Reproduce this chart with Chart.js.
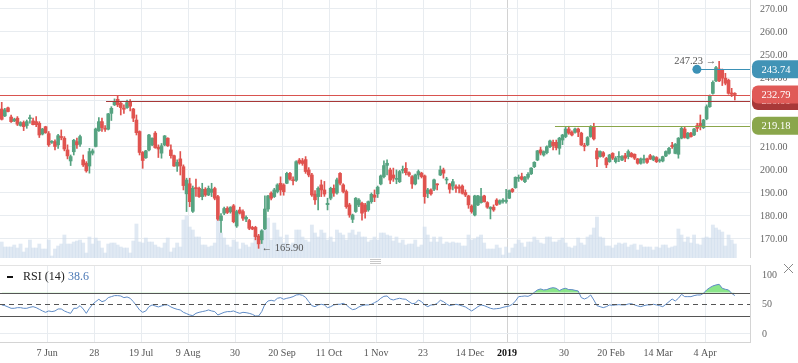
<!DOCTYPE html>
<html>
<head>
<meta charset="utf-8">
<script src="https://cdn.jsdelivr.net/npm/chart.js@4.4.1/dist/chart.umd.min.js"></script>
<style>
  html, body { margin: 0; padding: 0; background: #fff; }
  #wrap { position: relative; width: 798px; height: 363px; overflow: hidden; }
  #priceChart { position: absolute; left: 0; top: 0; }
  #rsiChart { position: absolute; left: 0; top: 258px; }
</style>
</head>
<body>
<div id="wrap">
  <canvas id="priceChart" width="798" height="258"></canvas>
  <canvas id="rsiChart" width="798" height="105"></canvas>
</div>
<script>
// daily candles, one per trading day (index 0 = late May 2018)
const opens = [
  226.5,223.5,227.0,223.0,221.3,222.5,219.3,220.6,219.3,222.3,
  221.3,221.0,220.3,215.6,218.8,215.8,212.0,212.3,210.9,214.5,
  213.8,208.7,203.9,207.9,212.3,211.2,204.4,202.9,201.7,207.3,
  210.2,217.1,221.0,218.1,217.7,224.6,228.3,230.7,229.0,226.8,
  227.1,229.7,226.5,221.7,216.7,207.6,205.3,208.7,210.9,216.0,
  209.9,207.3,210.9,213.8,208.7,206.2,201.7,204.8,201.4,189.6,
  194.0,182.0,192.3,192.0,188.4,191.6,189.1,190.2,191.9,188.4,
  178.0,181.2,183.3,181.8,184.4,175.6,182.6,181.9,178.6,178.0,
  175.0,175.0,171.3,169.6,174.4,183.0,189.9,188.4,190.6,194.2,
  193.5,194.2,198.5,195.7,195.5,204.3,204.0,204.5,200.0,197.8,
  189.5,188.4,193.5,191.3,184.9,187.7,192.0,190.0,198.5,193.5,
  190.6,184.8,178.5,181.9,184.8,185.5,184.8,182.6,186.2,189.1,
  189.6,193.9,197.1,202.0,200.0,197.8,195.9,194.9,199.8,200.7,
  198.8,197.1,193.9,197.8,198.6,197.4,189.8,191.3,191.6,193.8,
  197.8,200.0,195.6,193.9,193.0,192.7,192.5,193.0,190.2,188.7,
  184.3,180.4,184.8,185.8,188.7,185.8,183.1,183.8,186.9,185.5,
  186.3,186.3,187.7,191.6,192.3,196.3,197.1,194.9,196.8,198.3,
  201.4,204.3,208.7,206.5,207.5,210.1,212.0,212.0,209.4,213.0,
  214.5,217.8,216.4,216.4,217.8,216.0,210.6,210.9,214.5,218.8,
  208.3,205.8,207.5,205.0,203.6,207.2,203.6,205.5,204.3,206.2,
  205.8,207.2,206.8,204.8,202.9,204.4,204.8,206.2,204.4,205.4,
  203.9,203.9,206.1,207.2,210.6,207.2,206.8,213.8,217.8,213.8,
  216.0,215.2,219.3,220.3,218.4,222.2,227.5,233.3,238.7,243.9,
  243.5,239.9,239.0,233.5,233.3
];
const highs = [
  229.4,226.8,227.3,223.9,222.5,223.2,221.0,221.3,221.7,223.9,
  222.5,223.2,221.0,218.1,219.0,216.7,212.8,213.1,215.5,217.4,
  214.5,210.9,206.5,213.3,213.8,215.2,206.5,203.6,209.4,209.1,
  218.2,222.8,222.5,219.3,224.6,227.5,230.9,232.2,229.7,228.3,
  230.4,230.6,226.8,223.9,217.0,208.0,208.5,215.5,214.0,216.7,
  210.9,211.5,215.0,214.0,210.9,206.5,204.4,208.0,202.2,196.4,
  196.4,193.0,196.0,192.5,194.2,192.3,193.0,194.2,192.5,189.0,
  181.0,183.8,184.0,184.0,185.0,182.5,183.8,182.6,180.0,178.5,
  175.5,175.5,172.0,174.0,188.7,189.0,190.5,192.0,194.0,197.0,
  194.0,199.0,199.0,197.0,204.0,205.0,205.0,205.8,201.0,198.5,
  191.0,192.7,195.6,195.0,187.7,192.5,193.5,196.5,198.8,194.0,
  191.3,185.5,180.8,188.0,187.5,186.0,185.5,186.5,190.0,191.3,
  193.0,197.8,204.0,204.4,200.8,200.8,200.0,199.8,201.7,203.2,
  199.2,197.5,198.2,200.0,199.0,197.8,192.0,191.8,196.0,194.0,
  201.7,200.8,196.8,194.2,195.9,193.5,193.5,193.5,191.3,189.0,
  184.8,189.0,189.0,192.0,189.0,186.2,184.0,184.8,187.5,187.0,
  187.5,191.6,191.3,192.0,197.0,197.8,198.6,197.2,198.8,201.0,
  203.6,208.5,209.9,208.3,210.5,213.0,213.0,213.0,214.2,215.5,
  218.5,219.0,217.0,218.2,218.2,216.4,211.6,214.5,219.3,220.3,
  209.4,208.3,208.0,205.5,206.8,207.5,205.8,208.0,206.2,207.2,
  208.7,207.6,207.0,205.0,205.2,206.5,205.2,206.8,206.2,205.8,
  204.8,206.0,208.3,209.8,212.0,211.5,214.1,218.8,218.8,216.3,
  216.4,218.1,220.3,223.9,222.0,228.3,232.6,238.7,245.0,247.23,
  243.9,242.0,239.5,235.5,233.6
];
const lows = [
  221.7,223.2,225.2,220.7,221.0,219.3,219.0,217.1,218.1,220.3,
  219.6,218.8,214.1,215.2,215.9,210.2,211.5,208.7,209.4,213.1,
  208.3,204.8,201.9,206.5,209.4,210.2,201.5,199.0,198.6,206.5,
  210.0,216.7,216.7,216.7,217.4,221.5,228.0,227.5,223.9,224.6,
  226.8,225.7,221.0,215.2,206.5,200.7,205.0,208.3,210.5,209.4,
  205.4,205.1,210.5,210.2,205.1,201.5,199.3,197.8,191.3,181.9,
  184.0,181.5,188.5,188.0,187.0,188.5,188.8,188.4,187.0,178.0,
  172.8,180.5,181.0,181.2,177.0,175.0,180.8,178.0,177.5,174.0,
  174.0,169.6,165.9,168.0,174.0,182.0,187.0,188.0,190.0,189.0,
  189.0,194.0,195.5,193.5,195.0,202.5,202.0,198.5,197.0,188.5,
  185.0,182.6,188.4,188.5,182.6,187.0,188.5,189.5,193.5,190.0,
  183.3,179.4,177.1,181.5,184.0,178.2,179.0,182.0,185.5,186.2,
  188.0,193.5,196.5,197.8,194.0,195.0,194.0,194.5,198.6,197.8,
  197.2,192.0,193.5,196.0,196.5,185.5,187.9,189.0,191.0,191.3,
  197.5,196.4,193.9,189.9,191.3,190.2,190.0,189.5,188.4,183.3,
  181.2,180.0,184.5,185.5,186.0,183.3,178.7,182.0,184.5,185.0,
  185.5,185.5,187.5,190.2,192.0,195.0,195.5,194.5,196.0,198.0,
  201.0,204.0,206.5,206.0,207.0,209.7,208.7,208.7,206.8,211.0,
  214.0,215.5,214.8,216.0,214.5,210.6,208.3,210.5,214.2,213.0,
  201.4,205.5,205.5,201.0,203.3,204.5,203.0,203.6,204.0,203.6,
  204.8,205.5,204.5,202.5,202.5,202.9,202.8,204.5,204.0,203.2,
  203.3,203.5,205.8,206.9,209.4,207.0,205.1,213.5,213.8,213.5,
  214.2,214.9,216.7,217.4,218.0,221.8,227.2,232.9,238.4,238.4,
  236.7,237.0,232.9,231.9,230.4
];
const closes = [
  222.0,226.1,225.4,221.0,222.0,219.9,220.6,218.8,221.0,222.5,
  219.7,219.7,215.2,217.8,216.2,210.9,212.3,210.2,214.9,214.1,
  209.1,206.1,205.8,212.9,210.9,214.5,202.2,199.6,208.0,208.3,
  217.8,221.0,218.4,217.7,224.4,226.8,229.7,228.3,227.1,226.4,
  229.3,227.7,222.5,216.2,207.6,204.1,208.3,215.2,213.8,209.7,
  209.1,210.5,214.8,210.5,206.2,201.7,203.3,201.7,193.2,195.6,
  186.2,192.0,191.9,188.4,191.6,189.1,192.0,191.6,187.7,178.6,
  180.0,183.2,181.5,183.8,177.5,181.9,181.2,179.0,179.4,174.6,
  174.3,171.0,167.8,173.5,183.0,188.7,187.7,191.3,193.5,191.3,
  190.5,198.5,196.0,195.3,203.6,203.0,202.8,199.3,197.8,189.1,
  187.0,192.0,191.3,189.5,185.5,192.0,189.9,195.7,194.2,190.6,
  184.0,180.4,180.4,187.7,186.9,181.2,181.9,186.2,189.4,188.1,
  192.5,197.4,201.9,202.9,195.6,196.4,196.3,199.3,200.1,198.8,
  197.8,193.9,197.8,199.3,197.1,188.4,191.3,189.6,195.7,193.5,
  200.0,198.6,195.9,191.6,194.9,192.0,192.0,189.9,189.1,184.8,
  181.9,188.7,188.7,188.4,186.2,183.8,183.8,182.6,184.8,186.6,
  186.9,186.6,191.0,190.6,196.8,196.8,195.9,196.8,198.1,200.8,
  203.3,208.3,207.3,208.0,210.1,212.6,210.6,209.7,213.8,215.2,
  217.8,216.0,215.2,217.8,216.4,210.9,210.2,214.1,218.8,213.5,
  204.8,208.0,206.0,202.2,206.5,205.1,205.1,205.8,205.8,205.1,
  208.0,205.8,205.1,202.9,204.8,204.8,203.3,204.8,205.8,203.6,
  204.3,205.8,208.0,209.4,210.1,211.2,213.8,218.1,214.1,216.0,
  214.5,217.8,218.1,218.8,221.7,227.5,232.3,238.1,244.5,238.7,
  239.9,237.7,233.3,232.9,232.79
];
// volume (hundred-thousand shares)
const volumes = [
  16,11,11,11,13,10,14,6,10,18, 10,10,14,9,9,18,2,9,12,14,
  23,14,14,16,17,18,15,5,21,14, 20,17,10,5,14,15,15,13,11,10,
  10,5,17,34,16,15,20,16,16,13, 11,10,15,20,6,10,15,11,38,42,
  31,28,21,21,13,13,11,12,15,38, 25,20,13,11,18,16,9,15,13,11,
  15,23,13,28,45,40,18,35,28,21, 15,23,13,15,28,28,21,18,16,33,
  25,21,28,25,18,21,16,28,25,23, 18,25,28,23,26,21,21,16,18,21,
  18,25,25,23,22,17,21,15,18,13, 14,14,18,11,13,31,23,16,21,16,
  21,14,16,15,16,15,15,12,12,23, 18,19,21,23,15,9,9,9,13,10,
  3,11,5,10,14,18,15,11,16,16, 21,18,15,14,21,21,16,16,18,20,
  15,11,10,12,20,15,13,21,23,30, 41,21,20,12,12,10,13,15,14,15,
  11,13,14,8,13,11,11,11,8,11, 10,13,13,10,11,12,29,23,16,21,
  15,23,14,13,20,21,20,33,30,28, 26,12,23,18,14
];
// RSI (14)
const rsiValues = [
  49.2,48,45.8,43.5,43.5,44.6,44.6,43.5,43.5,45.2,
  46.3,44.6,41.8,39,36.7,39,37.9,39,42.4,42.4,
  39,36.7,35,43.5,43.5,48,42.4,35,43.5,50.3,
  54.8,58.8,54.8,56.5,61.6,63.3,65,65,64.4,61.6,
  62.7,60.5,54.8,48,40.7,36.7,39,46.3,49.2,47.5,
  45.8,47.5,49.2,49.2,45.8,43.5,41.8,40.7,36.7,34.5,
  32.2,31.1,35,36.7,37.9,39,40.7,39,37.9,32.2,
  34.5,36.7,37.9,37.9,39,36.7,35,36.7,36.1,35,
  33.3,30.5,30.5,37.9,50.3,55.9,57.1,55.9,60.5,61.6,
  58.8,60.5,61.6,63.3,66.1,66.7,65.5,62.1,54.8,48,
  46.3,49.2,50.3,49.2,44.6,46.3,49.2,50.3,50.3,52,
  49.2,44.6,41.2,42.4,45.8,48,49.2,49.2,50.3,53.1,
  55.9,60.5,63.8,64.4,59.3,57.6,59.3,60.5,59.3,58.8,
  54.8,51.4,52,57.6,54.8,49.2,46.3,49.2,49.2,52,
  57.1,54.8,50.8,48,49.2,50.3,49.2,47.5,45.8,42.4,
  39,42.4,46.3,49.2,48,45.8,43.5,42.4,42.9,43.5,
  45.2,46.3,47.5,50.3,55.9,63.3,63.8,64.4,63.8,66.1,
  70.6,74.6,76.3,74.6,75.2,77.4,78.5,77.4,73.5,76.3,
  77.4,75.2,75.2,74,72.9,61.6,59.3,61.6,66.1,57.6,
  48,46.3,44.6,46.3,49.2,48.6,49.2,49.7,49.2,49.2,
  50.8,51.4,49.2,47.5,46.3,48,49.2,49.2,50.3,49.2,
  48,46.3,50.3,54.8,59.3,55.9,60.5,67.2,63.3,63.3,
  63.3,65,66.1,66.1,68.9,74.6,78.5,81.4,83.1,84.2,
  77.4,75.7,74.6,68.9,65
];
const rsiLabel = 'RSI (14)';
const rsiShown = '38.6';
const rsiLevels = [70, 50, 30];
const rsiTicks = [0, 50, 100];

// date ticks (trading-day position) and labels
const dateTickPos = [14.5, 29.5, 44.5, 59.5, 74.5, 89.5, 104.5, 119.5, 134.5, 149.5, 161.3, 164.5, 179.5, 194.5, 209.5, 224.5];
const dateTickLabels = ['7 Jun', '28', '19 Jul', '9 Aug', '30', '20 Sep', '11 Oct', '1 Nov', '23', '14 Dec', '2019', '', '30', '20 Feb', '14 Mar', '4 Apr'];
const yearTickPos = 161.3;
const priceTicks = [170, 180, 190, 200, 210, 220, 230, 240, 250, 260, 270];

// price levels drawn across the chart (start = trading-day index, null = full width)
const levelPrices = [230.0, 232.79, 219.18, 243.74];
const levelStart = [33.3, null, 176.6, 221.9];

// ---- styles ----
const GREEN = '#56a381';
const RED = '#e0534f';
const VOL_COLOR = 'rgba(203,219,235,0.6)';
const GRID = '#e8ecf0';
const YEAR_GRID = '#d2d2d2';
const AXIS_LINE = '#d4d4d4';
const levelColors = ['#a83838', '#d9534f', '#8aa64b', '#3b91b6'];
const badgeColors = ['#a83838', '#e05a57', '#8aa64b', '#4193b6'];
const X_MIN = -0.55, X_MAX = 238.85;
const VOL_MAX = 258;

Chart.defaults.font.family = "'Liberation Serif', 'Times New Roman', serif";
Chart.defaults.font.size = 10;
Chart.defaults.color = '#555';

const candleColors = closes.map((c, i) => c >= opens[i] ? GREEN : RED);
const gridColor = (c) => c.tick && Math.abs(c.tick.value - yearTickPos) < 0.01 ? YEAR_GRID : GRID;

function xScaleBase() {
  return {
    type: 'linear', min: X_MIN, max: X_MAX, offset: false,
    afterBuildTicks: s => { s.ticks = dateTickPos.map(v => ({ value: v })); },
    grid: { offset: false, drawTicks: false, color: gridColor },
    border: { display: true, color: AXIS_LINE }
  };
}

// max high / min low markers
let hiIdx = 0, loIdx = 0;
highs.forEach((h, i) => { if (h > highs[hiIdx]) hiIdx = i; });
lows.forEach((l, i) => { if (l < lows[loIdx]) loIdx = i; });

const priceMarks = {
  id: 'priceMarks',
  afterDatasetsDraw(chart) {
    const { ctx, chartArea, scales: { x, y } } = chart;
    ctx.save();
    levelPrices.forEach((p, k) => {
      const py = Math.round(y.getPixelForValue(p)) + 0.5;
      const x0 = levelStart[k] === null ? chartArea.left : x.getPixelForValue(levelStart[k]);
      ctx.strokeStyle = levelColors[k];
      ctx.lineWidth = 1;
      ctx.beginPath();
      ctx.moveTo(x0, py);
      ctx.lineTo(chartArea.right, py);
      ctx.stroke();
    });
    // dot at start of the last level line
    const last = levelPrices.length - 1;
    ctx.fillStyle = levelColors[last];
    ctx.beginPath();
    ctx.arc(x.getPixelForValue(levelStart[last]), y.getPixelForValue(levelPrices[last]), 4.5, 0, Math.PI * 2);
    ctx.fill();

    // high / low labels
    ctx.font = "10.5px 'Liberation Serif', serif";
    ctx.fillStyle = '#555';
    ctx.textBaseline = 'middle';
    ctx.textAlign = 'right';
    ctx.fillText(highs[hiIdx].toFixed(2) + ' \u2192', x.getPixelForValue(hiIdx) - 3, y.getPixelForValue(highs[hiIdx]));
    ctx.textAlign = 'left';
    ctx.fillText('\u2190 ' + lows[loIdx].toFixed(2), x.getPixelForValue(loIdx) + 3, y.getPixelForValue(lows[loIdx]));
    ctx.restore();
  },
  afterDraw(chart) {
    const { ctx, chartArea, scales: { y } } = chart;
    ctx.save();
    levelPrices.forEach((p, k) => {
      const cy = y.getPixelForValue(p);
      const bx = chartArea.right + 2;
      ctx.fillStyle = badgeColors[k];
      ctx.beginPath();
      ctx.roundRect(bx, cy - 9, chart.width - bx + 4, 18, [6, 0, 0, 6]);
      ctx.fill();
      ctx.fillStyle = '#fff';
      ctx.font = "10.5px 'Liberation Serif', serif";
      ctx.textAlign = 'center';
      ctx.textBaseline = 'middle';
      ctx.fillText(p.toFixed(2), bx + 24, cy + 0.5);
    });
    ctx.restore();
  }
};

new Chart(document.getElementById('priceChart'), {
  type: 'bar',
  data: {
    datasets: [
      {
        label: 'Volume', yAxisID: 'yVol', order: 3, grouped: false,
        data: volumes.map((v, i) => ({ x: i, y: v })),
        backgroundColor: VOL_COLOR, barThickness: 3.2, borderWidth: 0
      },
      {
        label: 'Wick', yAxisID: 'y', order: 2, grouped: false,
        data: highs.map((h, i) => ({ x: i, y: [lows[i], h] })),
        backgroundColor: candleColors, barThickness: 1, borderWidth: 0
      },
      {
        label: 'Body', yAxisID: 'y', order: 1, grouped: false,
        data: opens.map((o, i) => ({ x: i, y: [o, closes[i]] })),
        backgroundColor: candleColors, barThickness: 3, minBarLength: 1, borderWidth: 0
      }
    ]
  },
  options: {
    responsive: false, animation: false, devicePixelRatio: 1,
    layout: { padding: 0 },
    plugins: { legend: { display: false }, tooltip: { enabled: false } },
    scales: {
      x: Object.assign(xScaleBase(), { ticks: { display: false } }),
      y: {
        position: 'right', min: 161.7, max: 273.9,
        afterBuildTicks: s => { s.ticks = priceTicks.map(v => ({ value: v })); },
        afterFit: s => { s.width = 48; s.paddingTop = 0; s.paddingBottom = 0; },
        ticks: { padding: 10, color: '#666', callback: v => Number(v).toFixed(2) },
        grid: { color: GRID, drawTicks: false },
        border: { color: AXIS_LINE }
      },
      yVol: { display: false, min: 0, max: VOL_MAX }
    }
  },
  plugins: [priceMarks]
});

const rsiMarks = {
  id: 'rsiMarks',
  beforeDatasetsDraw(chart) {
    const { ctx, chartArea } = chart;
    ctx.save();
    ctx.strokeStyle = '#e3e3e3';
    ctx.beginPath();
    ctx.moveTo(chartArea.left, chartArea.top + 0.5);
    ctx.lineTo(chartArea.right, chartArea.top + 0.5);
    ctx.stroke();
    ctx.restore();
  },
  afterDatasetsDraw(chart) {
    const { ctx, chartArea, scales: { y } } = chart;
    ctx.save();
    ctx.strokeStyle = '#555';
    ctx.lineWidth = 1;
    rsiLevels.forEach(lv => {
      const py = Math.round(y.getPixelForValue(lv)) + 0.5;
      ctx.setLineDash(lv === 50 ? [5, 4] : []);
      ctx.beginPath();
      ctx.moveTo(chartArea.left, py);
      ctx.lineTo(chartArea.right, py);
      ctx.stroke();
    });
    ctx.restore();
  },
  afterDraw(chart) {
    const { ctx, chartArea } = chart;
    ctx.save();
    // header
    const hy = chartArea.top + 12;
    ctx.fillStyle = '#111';
    ctx.fillRect(chartArea.left + 7, hy - 1, 6, 2);
    ctx.font = "12px 'Liberation Serif', serif";
    ctx.textBaseline = 'middle';
    ctx.textAlign = 'left';
    ctx.fillStyle = '#222';
    ctx.fillText(rsiLabel, chartArea.left + 23, hy);
    ctx.fillStyle = '#4a78b5';
    ctx.fillText(rsiShown, chartArea.left + 68, hy);
    // drag handle
    ctx.strokeStyle = '#c8c8c8';
    [1.5, 3.5, 5.5].forEach(dy => {
      ctx.beginPath();
      ctx.moveTo(370, dy);
      ctx.lineTo(381, dy);
      ctx.stroke();
    });
    // close icon
    ctx.strokeStyle = '#888';
    ctx.beginPath();
    ctx.moveTo(784, 6); ctx.lineTo(793, 15);
    ctx.moveTo(793, 6); ctx.lineTo(784, 15);
    ctx.stroke();
    ctx.restore();
  }
};

new Chart(document.getElementById('rsiChart'), {
  type: 'line',
  data: {
    datasets: [{
      label: rsiLabel,
      data: rsiValues.map((v, i) => ({ x: i, y: v })),
      borderColor: '#5f8bc6', borderWidth: 1, pointRadius: 0, tension: 0,
      fill: { target: { value: 70 }, above: 'rgba(125,226,125,0.9)', below: 'rgba(0,0,0,0)' }
    }]
  },
  options: {
    responsive: false, animation: false, devicePixelRatio: 1,
    layout: { padding: { top: 7 } },
    plugins: { legend: { display: false }, tooltip: { enabled: false } },
    scales: {
      x: Object.assign(xScaleBase(), {
        afterFit: s => { s.height = 21; },
        ticks: {
          display: true, autoSkip: false, maxRotation: 0, padding: 5,
          color: c => c.tick && Math.abs(c.tick.value - yearTickPos) < 0.01 ? '#111' : '#555',
          font: c => c.tick && Math.abs(c.tick.value - yearTickPos) < 0.01 ? { weight: 'bold' } : { weight: 'normal' },
          callback: (v, i) => dateTickLabels[i]
        }
      }),
      y: {
        position: 'right', min: -13.6, max: 116.9,
        afterBuildTicks: s => { s.ticks = rsiTicks.map(v => ({ value: v })); },
        afterFit: s => { s.width = 48; s.paddingTop = 0; s.paddingBottom = 0; },
        ticks: { padding: 12, color: '#666' },
        grid: { drawTicks: false, color: c => c.tick && c.tick.value === 0 ? GRID : 'rgba(0,0,0,0)' },
        border: { color: AXIS_LINE }
      }
    }
  },
  plugins: [rsiMarks]
});
</script>
</body>
</html>
